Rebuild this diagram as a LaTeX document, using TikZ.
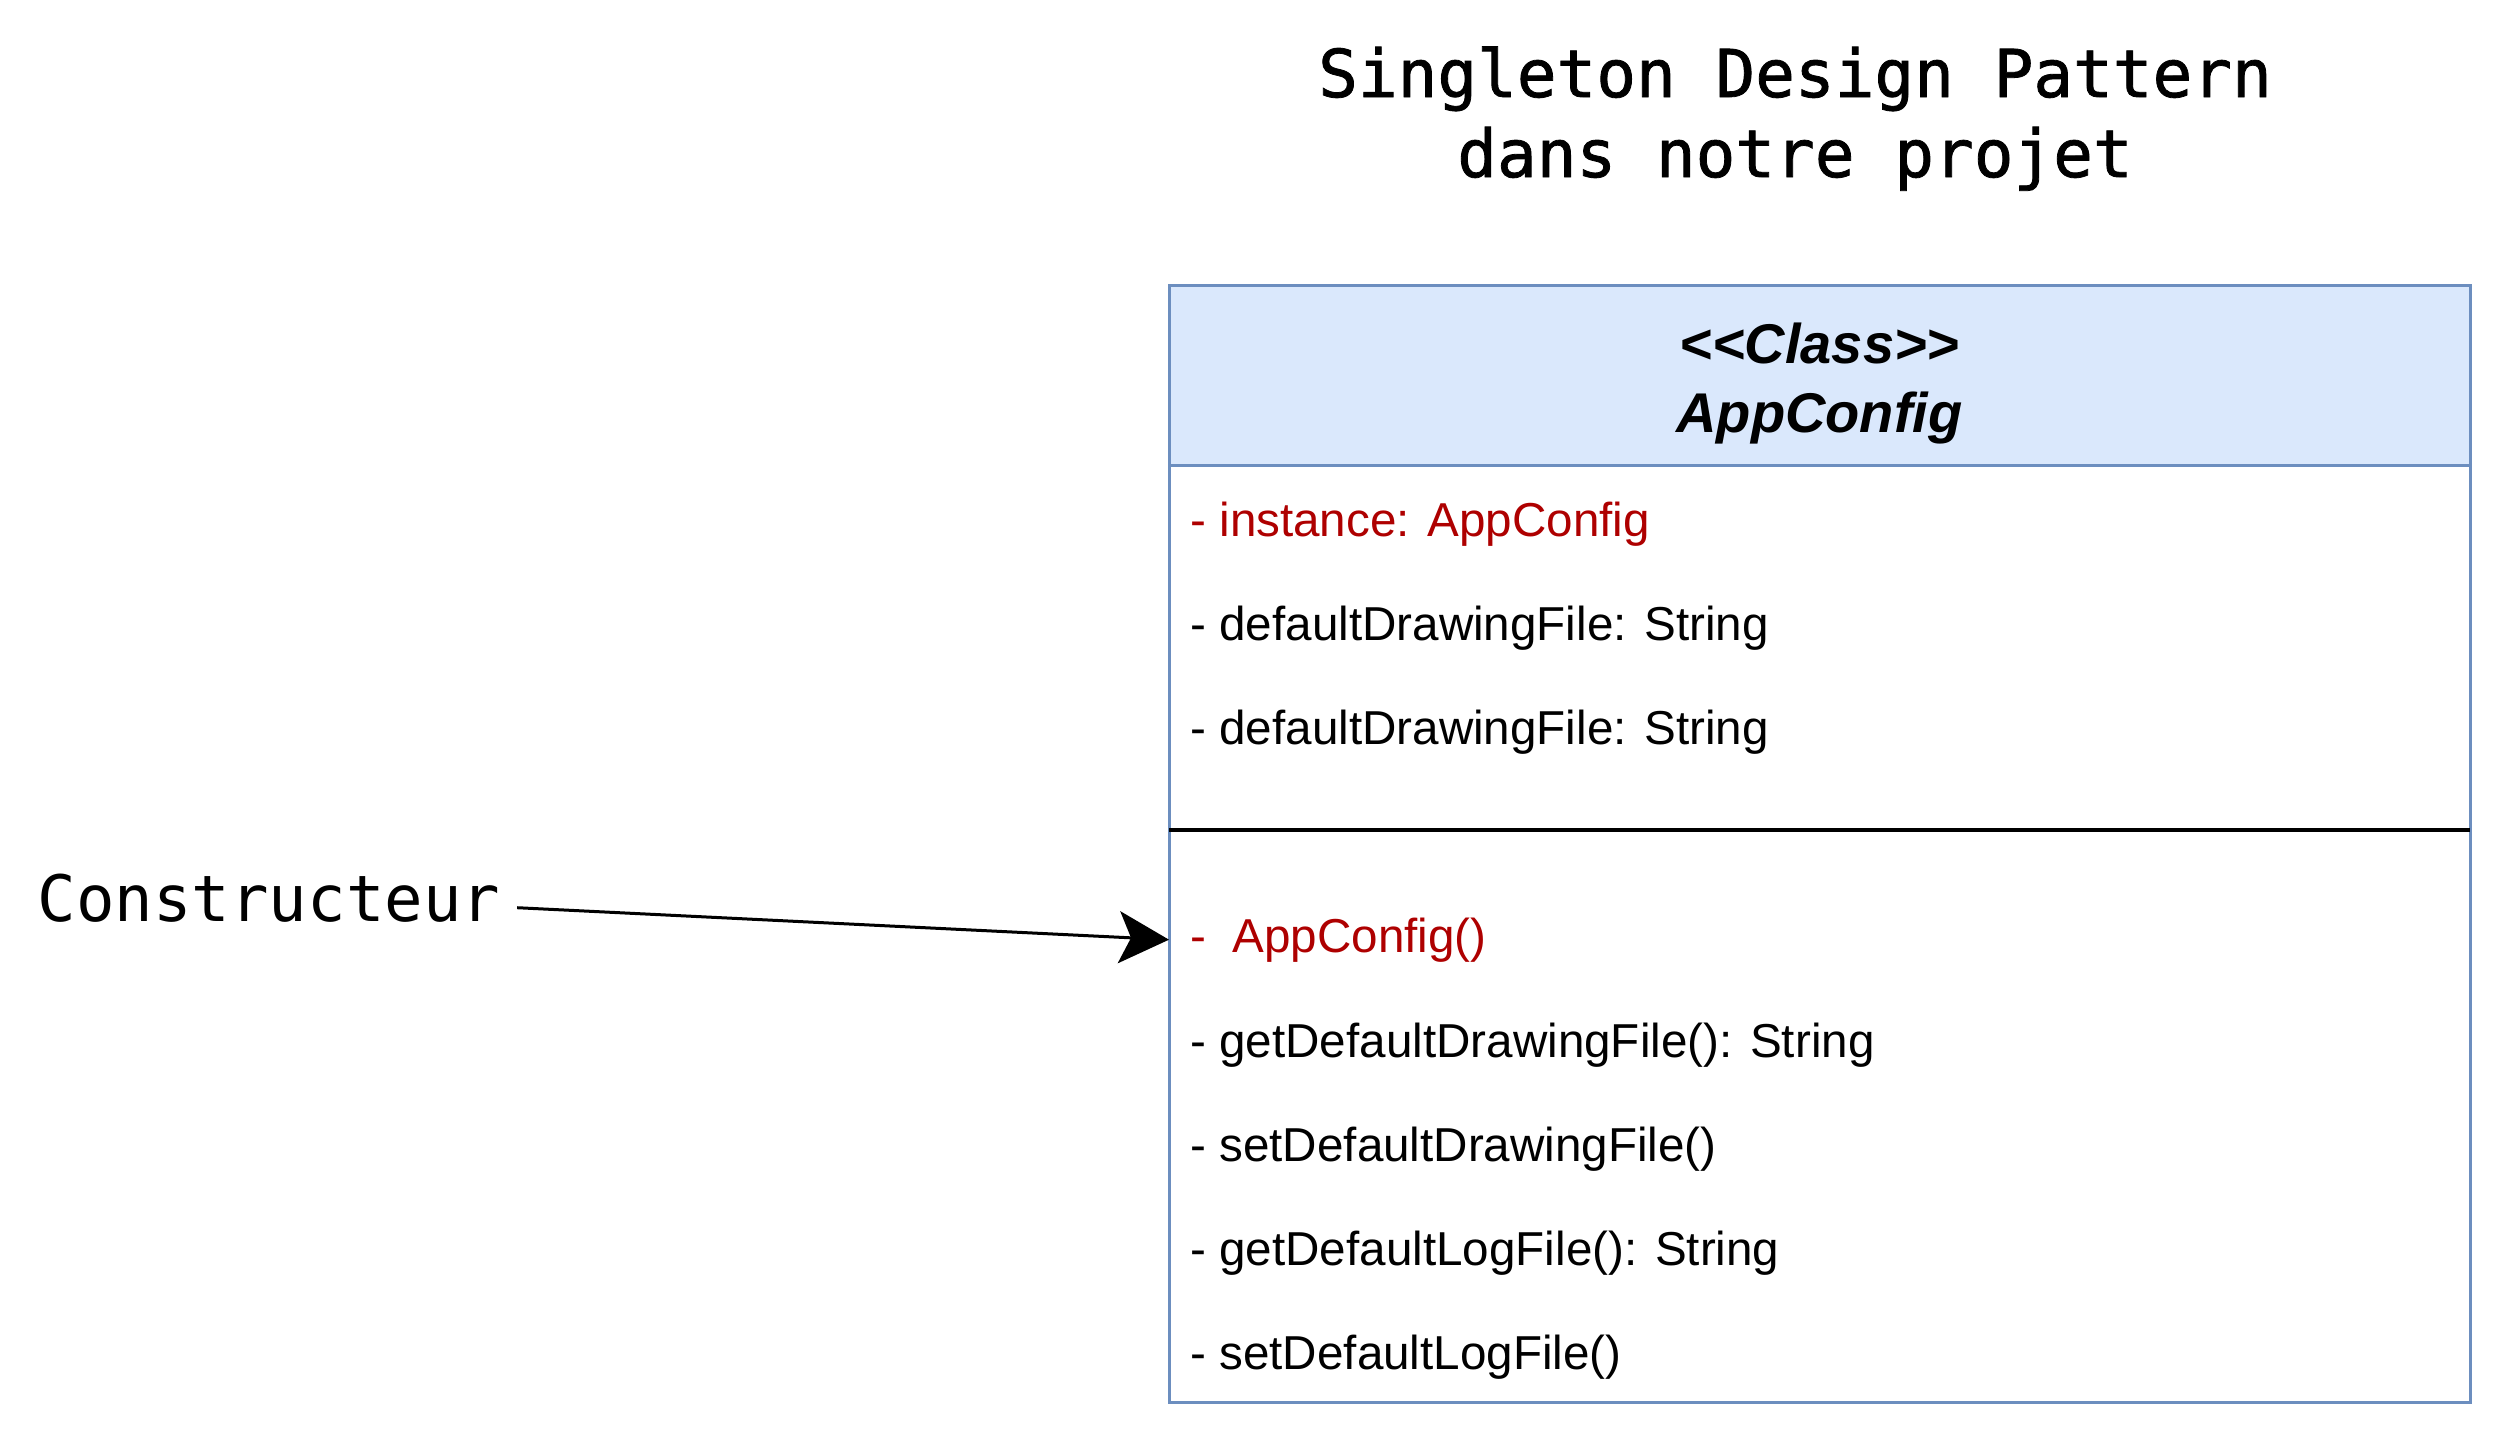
\documentclass[tikz,border=0pt]{standalone}
\usepackage{fontspec}
\setmainfont{Liberation Sans}
\newfontfamily\monofont{DejaVu Sans Mono}
\newfontfamily\titlefont[FakeBold=1.2]{DejaVu Sans Mono}
\usetikzlibrary{arrows.meta}
\definecolor{hdrfill}{HTML}{DAE8FC}
\definecolor{hdrline}{HTML}{6C8EBF}
\definecolor{priv}{HTML}{AE0000}
\begin{document}
\begin{tikzpicture}[x=0.5pt,y=-0.5pt,
  clsbox/.style={draw=hdrline, line width=1.5pt, minimum width=650.5pt, inner sep=0pt, outer sep=0pt, anchor=north west},
  hdrtext/.style={anchor=base, inner sep=0pt, font=\fontsize{28}{32}\selectfont\bfseries\itshape},
  member/.style={anchor=base west, inner sep=0pt, font=\fontsize{23.8}{28}\selectfont},
  titletext/.style={anchor=base, inner sep=0pt, font=\titlefont\fontsize{33}{40}\selectfont},
  monotext/.style={anchor=base, inner sep=0pt, font=\monofont\fontsize{32}{40}\selectfont},
  arrowline/.style={line width=1.5pt, -{Stealth[length=25pt, width=26pt, inset=6pt]}}
]
\useasboundingbox (0,0) rectangle (2512,1456);
% title
\node[titletext] (title1) at (1795,97) {Singleton Design Pattern};
\node[titletext] (title2) at (1795,177) {dans notre projet};
% class box
\node[clsbox, fill=hdrfill, minimum height=90pt] (hdr) at (1169,285) {};
\node[clsbox, minimum height=468.5pt] (body) at (1169,465) {};
\draw[line width=1.6pt] (body.west |- 0,830) coordinate (sepL) -- (body.east |- 0,830) coordinate (sepR);
\node[hdrtext] (stereo) at (1819.5,363) {\textless\kern0pt\textless\kern0pt Class\textgreater\kern0pt\textgreater};
\node[hdrtext] (cname) at (1819.5,432) {AppConfig};
% attributes
\node[member, text=priv] (a1) at (1190,536) {- instance: AppConfig};
\node[member] (a2) at (1190,640) {- defaultDrawingFile: String};
\node[member] (a3) at (1190,744) {- defaultDrawingFile: String};
% methods
\node[member, text=priv] (ctor) at (1190,952) {-\ \ AppConfig()};
\node[member] (m2) at (1190,1057) {- getDefaultDrawingFile(): String};
\node[member] (m3) at (1190,1161) {- setDefaultDrawingFile()};
\node[member] (m4) at (1190,1265) {- getDefaultLogFile(): String};
\node[member] (m5) at (1190,1369) {- setDefaultLogFile()};
% constructor label
\node[monotext, outer sep=8.5pt] (ctorlbl) at (269,921) {Constructeur};
\draw[arrowline] ([yshift=-5pt]ctorlbl.east) -- (body.west |- ctor.west);
\end{tikzpicture}
\end{document}
